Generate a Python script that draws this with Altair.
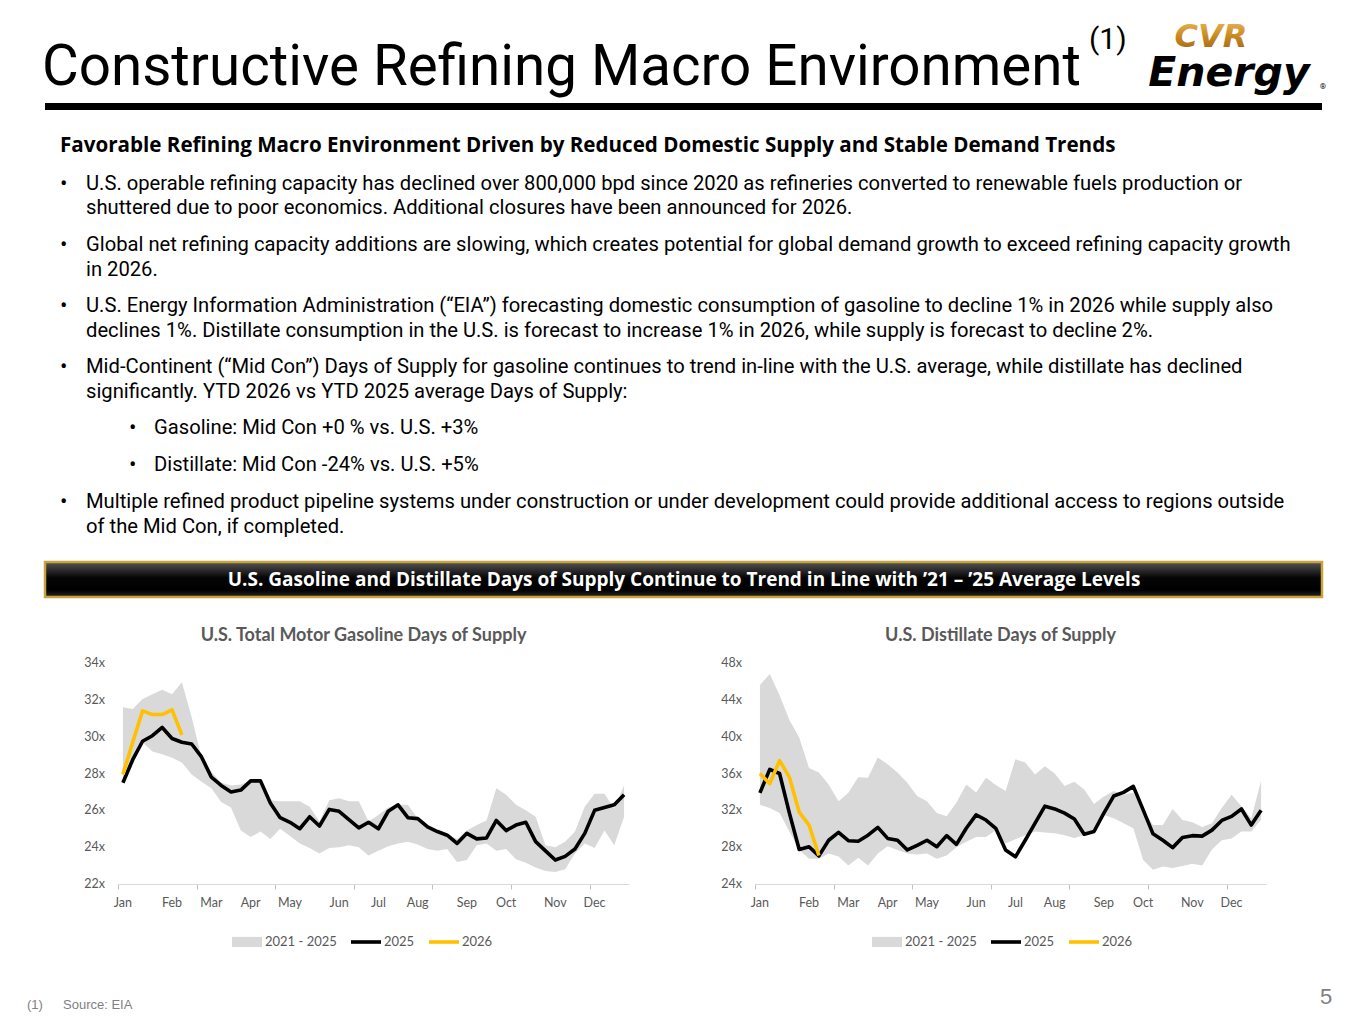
import altair as alt
import pandas as pd

# ---------------- data ----------------
weeks = list(range(52))
month_labels = ["Jan", "Feb", "Mar", "Apr", "May", "Jun", "Jul", "Aug", "Sep", "Oct", "Nov", "Dec"]
month_weeks = [0, 5, 9, 13, 17, 22, 26, 30, 35, 39, 44, 48]
series_names = ["2021 - 2025", "2025", "2026"]
gas_ticks = [22, 24, 26, 28, 30, 32, 34]
dist_ticks = [24, 28, 32, 36, 40, 44, 48]

gas_2025 = [27.5, 28.75, 29.75, 30.05, 30.5, 29.9, 29.7, 29.6, 28.9, 27.8, 27.35, 27.0, 27.1, 27.6, 27.6,
            26.4, 25.6, 25.35, 25.0, 25.65, 25.15, 26.05, 25.95, 25.5, 25.05, 25.35, 25.0, 25.95, 26.3,
            25.6, 25.55, 25.1, 24.85, 24.65, 24.2, 24.75, 24.45, 24.5, 25.45, 24.9, 25.2, 25.35, 24.3,
            23.8, 23.3, 23.5, 23.9, 24.75, 26.0, 26.15, 26.3, 26.85]
gas_2026 = [27.95, 29.7, 31.4, 31.2, 31.2, 31.45, 30.1]
gas_low = [27.5, 28.8, 29.7, 29.2, 29.05, 28.85, 28.6, 27.95, 27.55, 27.2, 26.45, 26.15, 24.9, 24.55, 24.85,
           24.45, 25.0, 24.6, 24.2, 23.95, 23.65, 23.95, 24.0, 24.1, 24.0, 23.55, 23.8, 24.05, 24.2, 24.3,
           24.15, 23.9, 23.8, 23.9, 23.2, 23.3, 24.1, 24.2, 23.8, 23.9, 23.35, 23.15, 22.9, 22.7, 22.65,
           22.8, 23.65, 24.2, 23.95, 24.9, 24.1, 25.65]
gas_high = [31.6, 31.5, 32.05, 32.3, 32.55, 32.3, 32.95, 31.05, 28.85, 28.1, 27.5, 27.35, 27.4, 27.6, 27.6,
            26.55, 26.5, 26.5, 26.5, 26.2, 25.4, 26.55, 26.65, 26.5, 26.5, 25.4, 25.75, 26.15, 26.3, 26.3,
            25.55, 25.15, 24.9, 24.7, 24.45, 24.9, 25.2, 25.45, 27.2, 26.85, 26.3, 26.0, 25.65, 24.1, 24.0,
            24.3, 24.85, 26.2, 26.9, 26.9, 26.1, 27.35]

dist_2025 = [33.9, 36.45, 36.0, 31.7, 27.75, 28.05, 27.05, 28.75, 29.6, 28.7, 28.65, 29.3, 30.15, 28.95,
             28.75, 27.7, 28.2, 28.75, 28.05, 29.25, 28.3, 30.05, 31.5, 30.95, 30.05, 27.7, 26.95, 28.75,
             30.6, 32.45, 32.15, 31.7, 31.05, 29.4, 29.7, 31.7, 33.55, 33.95, 34.6, 32.05, 29.45, 28.75,
             27.95, 29.05, 29.25, 29.2, 29.85, 30.9, 31.35, 32.15, 30.4, 32.0]
dist_2026 = [36.0, 34.9, 37.4, 35.6, 31.8, 30.4, 27.1]
dist_low = [32.6, 32.25, 31.7, 29.7, 27.7, 26.75, 26.75, 27.3, 27.0, 26.0, 26.85, 26.0, 27.3, 28.1, 27.7,
            27.3, 27.2, 27.3, 26.75, 27.1, 28.0, 28.6, 29.1, 29.1, 29.85, 28.4, 28.85, 29.3, 29.7, 29.6,
            29.5, 29.3, 29.0, 29.3, 30.0, 31.5, 31.15, 30.6, 30.05, 26.6, 25.55, 25.9, 25.75, 25.95, 26.2,
            26.0, 27.75, 28.75, 28.95, 29.7, 29.7, 31.0]
dist_high = [45.6, 46.8, 44.5, 41.8, 39.9, 36.6, 36.1, 34.8, 33.0, 33.9, 35.6, 35.55, 37.75, 37.0, 36.1,
             35.0, 33.55, 33.0, 31.7, 31.35, 32.85, 34.8, 33.95, 35.55, 34.75, 34.1, 37.55, 37.2, 35.9,
             36.8, 36.0, 34.65, 35.1, 34.25, 32.7, 33.5, 34.1, 33.7, 33.9, 32.05, 30.4, 30.4, 32.15, 30.95,
             30.7, 30.2, 30.6, 32.25, 33.7, 32.45, 31.15, 35.2]

title_main = "Constructive Refining Macro Environment"
title_sup = "(1)"
heading = "Favorable Refining Macro Environment Driven by Reduced Domestic Supply and Stable Demand Trends"
bullets = [
    ["U.S. operable refining capacity has declined over 800,000 bpd since 2020 as refineries converted to renewable fuels production or",
     "shuttered due to poor economics. Additional closures have been announced for 2026."],
    ["Global net refining capacity additions are slowing, which creates potential for global demand growth to exceed refining capacity growth",
     "in 2026."],
    ["U.S. Energy Information Administration (\u201cEIA\u201d) forecasting domestic consumption of gasoline to decline 1% in 2026 while supply also",
     "declines 1%. Distillate consumption in the U.S. is forecast to increase 1% in 2026, while supply is forecast to decline 2%."],
    ["Mid-Continent (\u201cMid Con\u201d) Days of Supply for gasoline continues to trend in-line with the U.S. average, while distillate has declined",
     "significantly. YTD 2026 vs YTD 2025 average Days of Supply:"],
]
sub_bullets = ["Gasoline: Mid Con +0 % vs. U.S. +3%", "Distillate: Mid Con -24% vs. U.S. +5%"]
last_bullet = ["Multiple refined product pipeline systems under construction or under development could provide additional access to regions outside",
               "of the Mid Con, if completed."]
banner_text = "U.S. Gasoline and Distillate Days of Supply Continue to Trend in Line with \u201921 \u2013 \u201925 Average Levels"
footnote_num = "(1)"
footnote_text = "Source: EIA"
page_num = "5"

# ---------------- styling ----------------
BODY_FONT = "Roboto"
BOLD_FONT = "Open Sans"
CHART_FONT = "Lato"
GREY_TXT = "#595959"
W_PLOT, H_PLOT = 511, 221
TOP_W, TOP_H = 1225, 589
TOP_PAD = 30  # blank strip above the top panel's origin (fixes its vertical placement)
# origin of the top panel on the page
X0, Y0 = 118, 8 + TOP_PAD


def txt(s, x, y, size, color="black", weight="normal", align="left", font=BODY_FONT, style="normal",
        baseline="middle"):
    return alt.Chart(pd.DataFrame({"t": [s]})).mark_text(
        fontSize=size, color=color, fontWeight=weight, align=align, font=font, fontStyle=style,
        baseline=baseline
    ).encode(text="t:N", x=alt.value(x), y=alt.value(y))


def ptxt(s, px, py, size, **kw):
    """text placed by page coordinates"""
    return txt(s, px - X0, py - Y0, size, **kw)


# ---------------- top (text) panel ----------------
layers = []
layers.append(alt.Chart(pd.DataFrame({"a": [0]})).mark_rect(fill="white", opacity=1).encode(
    x=alt.value(0), x2=alt.value(TOP_W), y=alt.value(-TOP_PAD), y2=alt.value(0)))
layers.append(ptxt(title_main, 42, 85, 56.5, baseline="alphabetic"))
layers.append(ptxt(title_sup, 1089, 40, 30))
layers.append(alt.Chart(pd.DataFrame({"a": [0]})).mark_rule(color="black", strokeWidth=7).encode(
    x=alt.value(45 - X0), x2=alt.value(1322 - X0), y=alt.value(106.5 - Y0)))
# logo
gold = alt.Gradient(gradient="linear",
                    stops=[alt.GradientStop(color="#F0C060", offset=0), alt.GradientStop(color="#C98A22", offset=0.5),
                           alt.GradientStop(color="#9A5E12", offset=1)],
                    x1=0, x2=0, y1=0, y2=1)
layers.append(alt.Chart(pd.DataFrame({"t": ["CVR"]})).mark_text(
    fontSize=32, fill=gold, fontWeight="bold", font="DejaVu Sans", fontStyle="italic", align="center",
    baseline="middle").encode(text="t:N", x=alt.value(1211 - X0), y=alt.value(37 - Y0)))
layers.append(ptxt("Energy", 1229, 74, 41, color="black", weight="bold", align="center",
                   font="DejaVu Sans", style="italic"))
layers.append(ptxt("\u00ae", 1323, 87, 8, color="black", align="center"))

layers.append(ptxt(heading, 60, 146, 20.6, weight="bold", font=BOLD_FONT))
line_ys = [(184, 208), (245, 270), (306, 331), (367, 392)]
BODY = 20.2
for (l1, l2), (y1, y2) in zip(bullets, line_ys):
    layers.append(ptxt("\u2022", 60, y1, 22))
    layers.append(ptxt(l1, 86, y1, BODY))
    layers.append(ptxt(l2, 86, y2, BODY))
for s, y in zip(sub_bullets, [428, 465]):
    layers.append(ptxt("\u2022", 129, y, 22))
    layers.append(ptxt(s, 154, y, BODY))
layers.append(ptxt("\u2022", 60, 502, 22))
layers.append(ptxt(last_bullet[0], 86, 502, BODY))
layers.append(ptxt(last_bullet[1], 86, 527, BODY))

banner_fill = alt.Gradient(
    gradient="linear",
    stops=[alt.GradientStop(color="#555555", offset=0), alt.GradientStop(color="#050505", offset=0.45),
           alt.GradientStop(color="#000000", offset=0.8), alt.GradientStop(color="#2a2a2a", offset=1)],
    x1=0, x2=0, y1=0, y2=1)
layers.append(alt.Chart(pd.DataFrame({"a": [0]})).mark_rect(fill=banner_fill, stroke="#C9A43A", strokeWidth=2.5).encode(
    x=alt.value(45 - X0), x2=alt.value(1322 - X0), y=alt.value(562 - Y0), y2=alt.value(597 - Y0)))
layers.append(ptxt(banner_text, 684, 580, 19, color="white", weight="bold", align="center", font=BOLD_FONT))

top = alt.layer(*layers).properties(width=TOP_W, height=TOP_H)

# ---------------- charts ----------------
tick_vals = [k - 0.5 for k in range(53)]
rect_path = "M-1,-0.34L1,-0.34L1,0.34L-1,0.34Z"
line_path = "M-1,-0.12L1,-0.12L1,0.12L-1,0.12Z"


def panel(title, s25, s26, low, high, ydom, yticks, extent, legx, extra):
    xaxis = alt.Axis(values=tick_vals, labels=False, title=None, grid=False,
                     domainColor="#D9D9D9", tickColor="#BFBFBF", tickSize=5)
    yaxis = alt.Axis(values=yticks, labelExpr="datum.value + 'x'", labelOpacity=0,
                     title=None, grid=False, domain=False, ticks=False, labelColor=GREY_TXT,
                     labelFontSize=12.5, labelFont=CHART_FONT, labelPadding=13, minExtent=extent)
    xs = alt.Scale(domain=[-0.5, 51.5], nice=False, zero=False)
    ys = alt.Scale(domain=list(ydom), nice=False, zero=False)

    band = alt.Chart(pd.DataFrame({"week": weeks, "low": low, "high": high})).mark_area(
        color="#D9D9D9").encode(
        x=alt.X("week:Q", scale=xs, axis=xaxis),
        y=alt.Y("low:Q", scale=ys, axis=yaxis),
        y2="high:Q")
    l25 = alt.Chart(pd.DataFrame({"week": weeks, "v": s25})).mark_line(
        color="black", strokeWidth=3.6, strokeJoin="round").encode(
        x=alt.X("week:Q", scale=xs), y=alt.Y("v:Q", scale=ys))
    l26 = alt.Chart(pd.DataFrame({"week": weeks[:len(s26)], "v": s26})).mark_line(
        color="#FFC000", strokeWidth=3.6, strokeJoin="round").encode(
        x=alt.X("week:Q", scale=xs), y=alt.Y("v:Q", scale=ys))
    months = alt.Chart(pd.DataFrame({"week": month_weeks, "m": month_labels})).mark_text(
        font=CHART_FONT, fontSize=12.5, color=GREY_TXT, baseline="middle", align="center").encode(
        x=alt.X("week:Q", scale=xs), y=alt.value(H_PLOT + 19), text="m:N")
    ylabels = alt.Chart(pd.DataFrame({"v": yticks, "lab": [f"{v}x" for v in yticks]})).mark_text(
        font=CHART_FONT, fontSize=12.5, color=GREY_TXT, baseline="middle", align="right").encode(
        y=alt.Y("v:Q", scale=ys), x=alt.value(-13), text="lab:N")

    leg = alt.Legend(orient="none", legendX=legx, legendY=264, direction="horizontal", title=None,
                     labelFont=CHART_FONT, labelFontSize=13, labelColor=GREY_TXT, symbolSize=900,
                     symbolStrokeWidth=0, columnPadding=14, labelOffset=3, symbolOpacity=1)
    legend_pts = alt.Chart(pd.DataFrame({"series": series_names})).mark_point(filled=True, opacity=1).encode(
        color=alt.Color("series:N", scale=alt.Scale(domain=series_names, range=["#D9D9D9", "#000000", "#FFC000"]),
                        legend=leg),
        shape=alt.Shape("series:N", scale=alt.Scale(domain=series_names, range=[rect_path, line_path, line_path]),
                        legend=leg),
    ).transform_filter("false")

    return alt.layer(band, l25, l26, months, ylabels, legend_pts, *extra).properties(
        width=W_PLOT, height=H_PLOT,
        title=alt.TitleParams(title, font=CHART_FONT, fontSize=18, fontWeight="bold", color=GREY_TXT,
                              anchor="middle", dx=-10, offset=12))


left_extra = [txt(footnote_num, -91, 342, 13, color="#7F7F7F", font="Liberation Sans"),
              txt(footnote_text, -55, 342, 13, color="#7F7F7F", font="Liberation Sans")]
right_extra = [txt(page_num, 571, 334, 22, color="#7F7F7F", align="center", font="Liberation Sans")]

left = panel("U.S. Total Motor Gasoline Days of Supply", gas_2025, gas_2026, gas_low, gas_high,
             (22, 34), gas_ticks, 110, 114, left_extra)
right = panel("U.S. Distillate Days of Supply", dist_2025, dist_2026, dist_low, dist_high,
              (24, 48), dist_ticks, 126, 117, right_extra)

row = alt.hconcat(left, right, spacing=0).resolve_scale(color="independent", shape="independent")

chart = alt.vconcat(top, row, spacing=0).properties(padding=0).configure_view(stroke=None)

chart.save("out.html", embed_options={"renderer": "svg", "actions": False})
